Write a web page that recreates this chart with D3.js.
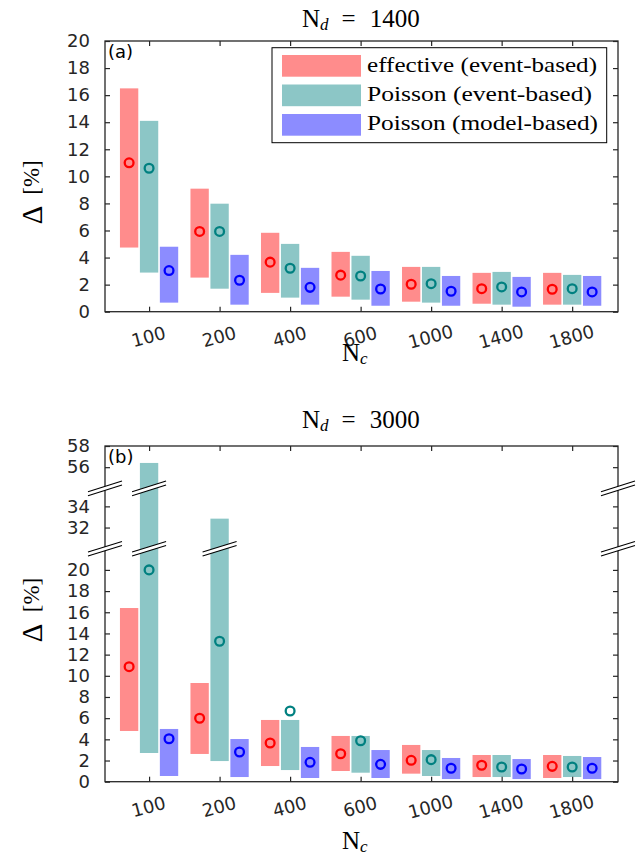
<!DOCTYPE html>
<html>
<head>
<meta charset="utf-8">
<script src="https://cdn.jsdelivr.net/npm/d3@7"></script>
<style>
  body { margin: 0; background: #fff; }
  svg { display: block; }
  .tick text { font-family: "DejaVu Sans", sans-serif; font-size: 18px; fill: #262626; }
  .tick line { stroke: #262626; stroke-width: 1.2; }
  .serif { font-family: "Liberation Serif", "DejaVu Serif", serif; fill: #000; }
</style>
</head>
<body>
<svg id="chart" width="638" height="855"></svg>
<script>
// categories (N_c)
const categories = ['100', '200', '400', '600', '1000', '1400', '1800'];
const seriesNames = ['effective (event-based)', 'Poisson (event-based)', 'Poisson (model-based)'];

// panel (a), N_d = 1400 : low / high / marker per category
const a_eff_lo   = [4.74, 2.52, 1.39, 1.11, 0.74, 0.59, 0.52];
const a_eff_hi   = [16.5, 9.09, 5.83, 4.42, 3.31, 2.87, 2.87];
const a_eff_mid  = [11.0, 5.93, 3.66, 2.70, 2.03, 1.70, 1.66];
const a_pev_lo   = [2.89, 1.70, 1.04, 0.89, 0.67, 0.52, 0.52];
const a_pev_hi   = [14.1, 7.98, 5.01, 4.13, 3.31, 2.94, 2.72];
const a_pev_mid  = [10.6, 5.93, 3.21, 2.64, 2.07, 1.83, 1.70];
const a_pmo_lo   = [0.67, 0.52, 0.52, 0.44, 0.44, 0.37, 0.44];
const a_pmo_hi   = [4.80, 4.20, 3.24, 3.01, 2.64, 2.57, 2.64];
const a_pmo_mid  = [3.04, 2.32, 1.80, 1.68, 1.51, 1.46, 1.46];

// panel (b), N_d = 3000
const b_eff_lo   = [4.79, 2.62, 1.48, 1.01, 0.76, 0.44, 0.35];
const b_eff_hi   = [16.4, 9.32, 5.83, 4.32, 3.47, 2.52, 2.52];
const b_eff_mid  = [10.86, 5.99, 3.65, 2.64, 2.02, 1.55, 1.45];
const b_pev_lo   = [2.71, 1.95, 1.10, 0.85, 0.54, 0.44, 0.44];
const b_pev_hi   = [56.4, 32.84, 5.83, 4.32, 2.99, 2.52, 2.43];
const b_pev_mid  = [20.0, 13.26, 6.68, 3.87, 2.08, 1.39, 1.39];
const b_pmo_lo   = [0.54, 0.44, 0.35, 0.35, 0.25, 0.25, 0.25];
const b_pmo_hi   = [4.98, 4.03, 3.28, 2.99, 2.24, 2.14, 2.33];
const b_pmo_mid  = [4.06, 2.80, 1.83, 1.64, 1.27, 1.20, 1.27];

// y ticks
const a_yticks = [0, 2, 4, 6, 8, 10, 12, 14, 16, 18, 20];
const b_yticks = [0, 2, 4, 6, 8, 10, 12, 14, 16, 18, 20, 32, 34, 56, 58];
// broken y axis for (b): kept segments
const b_segments = [[0, 22], [30, 35.7], [54, 58]];

const barFill = ['#ff8c8c', '#8cc6c6', '#8c8cff'];
const markStroke = ['#ff0000', '#008080', '#0000ff'];
const legendWidths = [230, 225, 231];
const axisColor = '#262626';

const svg = d3.select('#chart');
const left = 105, right = 618;

let x = d3.scaleLinear().domain([-0.625, 6.65]).range([left, right]);
const offs = [-0.283, 0, 0.283];
const bw = 0.26;

// "N" with italic subscript, LaTeX-ish
let subLabel = function(g, x0, y0, sub, rest) {
  let t = g.append('text').attr('class', 'serif')
    .attr('x', x0).attr('y', y0).style('font-size', '25px');
  t.append('tspan').text('N');
  t.append('tspan').attr('font-style', 'italic').attr('dy', 3).style('font-size', '17px').text(sub);
  if (rest) {
    t.append('tspan').attr('dy', -3).attr('dx', 13).text('=');
    t.append('tspan').attr('dx', 14).text(rest);
  }
};

let drawPanel = function(opts) {
  let g = svg.append('g');
  let y = opts.y;
  let top = opts.top, bottom = opts.bottom;

  // bars + markers
  opts.series.forEach(function(s, k) {
    let rows = categories.map((c, i) => ({i: i, lo: s.lo[i], hi: s.hi[i]}));
    g.selectAll('rect.s' + k).data(rows).enter().append('rect')
      .attr('class', 's' + k)
      .attr('x', d => x(d.i + offs[k] - bw / 2))
      .attr('width', d => x(bw) - x(0))
      .attr('y', d => y(d.hi))
      .attr('height', d => y(d.lo) - y(d.hi))
      .attr('fill', barFill[k]);
  });
  opts.series.forEach(function(s, k) {
    let rows = categories.map((c, i) => ({i: i, mid: s.mid[i]}));
    g.selectAll('circle.s' + k).data(rows).enter().append('circle')
      .attr('class', 's' + k)
      .attr('cx', d => x(d.i + offs[k]))
      .attr('cy', d => y(d.mid))
      .attr('r', 4.4)
      .attr('fill', 'none')
      .attr('stroke', markStroke[k])
      .attr('stroke-width', 2.3);
  });

  // box
  g.append('rect')
    .attr('x', left).attr('y', top)
    .attr('width', right - left).attr('height', bottom - top)
    .attr('fill', 'none').attr('stroke', axisColor).attr('stroke-width', 1.3);

  // axes (ticks inward)
  let xa = g.append('g').attr('transform', 'translate(0,' + bottom + ')')
    .call(d3.axisBottom(x).tickValues(d3.range(categories.length))
      .tickFormat(i => categories[i]).tickSizeInner(-5).tickSizeOuter(0));
  xa.selectAll('.tick text')
    .attr('y', 0).attr('dy', '0.35em')
    .attr('text-anchor', 'middle')
    .attr('transform', 'translate(-1,25) rotate(-15)');
  g.append('g').attr('transform', 'translate(0,' + top + ')')
    .call(d3.axisTop(x).tickValues(d3.range(categories.length))
      .tickFormat('').tickSizeInner(-5).tickSizeOuter(0));
  g.append('g').attr('transform', 'translate(' + left + ',0)')
    .call(d3.axisLeft(y).tickValues(opts.yticks).tickSizeInner(-5).tickSizeOuter(0).tickPadding(15));
  g.append('g').attr('transform', 'translate(' + right + ',0)')
    .call(d3.axisRight(y).tickValues(opts.yticks).tickFormat('').tickSizeInner(-5).tickSizeOuter(0));
  g.selectAll('.domain').remove();

  // titles and labels
  subLabel(g, 302, opts.titleY, 'd', String(opts.nd));
  subLabel(g, 342, opts.xlabY, 'c');

  g.append('text').attr('class', 'serif')
    .attr('transform', 'translate(42,' + opts.ylabY[0] + ') rotate(-90)')
    .attr('text-anchor', 'middle').style('font-size', '29px')
    .text('Δ');
  g.append('text').attr('class', 'serif')
    .attr('transform', 'translate(39,' + opts.ylabY[1] + ') rotate(-90)')
    .attr('text-anchor', 'middle').style('font-size', '23px')
    .text('[%]');

  g.append('text')
    .attr('x', 108).attr('y', top + 17)
    .style('font-family', '"DejaVu Sans", sans-serif').style('font-size', '18px')
    .attr('fill', '#000')
    .text(opts.tag);

  return g;
};

// ---- panel (a)
let ya = d3.scaleLinear().domain([0, 20]).range([311.7, 41]);
let gA = drawPanel({
  y: ya, top: 41, bottom: 311.7, yticks: a_yticks, titleY: 27, xlabY: 361, ylabY: [215, 177.5],
  nd: 1400, tag: '(a)',
  series: [
    {lo: a_eff_lo, hi: a_eff_hi, mid: a_eff_mid},
    {lo: a_pev_lo, hi: a_pev_hi, mid: a_pev_mid},
    {lo: a_pmo_lo, hi: a_pmo_hi, mid: a_pmo_mid}
  ]
});

// legend
let lg = gA.append('g');
lg.append('rect').attr('x', 272).attr('y', 47.7).attr('width', 334.7).attr('height', 95)
  .attr('fill', '#fff').attr('stroke', '#000').attr('stroke-width', 1);
seriesNames.forEach(function(name, k) {
  lg.append('rect').attr('x', 282).attr('y', 55 + k * 29.5).attr('width', 79).attr('height', 21.7)
    .attr('fill', barFill[k]);
  lg.append('text').attr('class', 'serif')
    .attr('x', 367).attr('y', 72 + k * 29)
    .style('font-size', '22px')
    .attr('textLength', legendWidths[k]).attr('lengthAdjust', 'spacingAndGlyphs')
    .text(name);
});

// ---- panel (b) with broken axis
const bTop = 446, bBottom = 781.7;
let units = d3.sum(b_segments, s => s[1] - s[0]);
let ppu = (bBottom - bTop) / units;
let bDom = [], bRng = [], acc = 0;
b_segments.forEach(function(s) {
  bDom.push(s[0]); bRng.push(bBottom - acc * ppu);
  acc += s[1] - s[0];
  bDom.push(s[1]); bRng.push(bBottom - acc * ppu);
});
let yb = d3.scaleLinear().domain(bDom).range(bRng);

let gB = drawPanel({
  y: yb, top: bTop, bottom: bBottom, yticks: b_yticks, titleY: 428, xlabY: 849, ylabY: [633, 595],
  nd: 3000, tag: '(b)',
  series: [
    {lo: b_eff_lo, hi: b_eff_hi, mid: b_eff_mid},
    {lo: b_pev_lo, hi: b_pev_hi, mid: b_pev_mid},
    {lo: b_pmo_lo, hi: b_pmo_hi, mid: b_pmo_mid}
  ]
});

// break marks: on both axes and on every bar crossing a gap
let breakMark = function(cx, cy) {
  let hw = 17, s = 5.3, gp = 2;
  gB.append('path')
    .attr('d', 'M' + (cx - hw) + ',' + (cy + s - gp) + 'L' + (cx + hw) + ',' + (cy - s - gp) +
      'L' + (cx + hw) + ',' + (cy - s + gp) + 'L' + (cx - hw) + ',' + (cy + s + gp) + 'Z')
    .attr('fill', '#fff');
  [-gp, gp].forEach(function(o) {
    gB.append('line')
      .attr('x1', cx - hw).attr('y1', cy + s + o)
      .attr('x2', cx + hw).attr('y2', cy - s + o)
      .attr('stroke', '#000').attr('stroke-width', 1.1);
  });
};
let bSeries = [[b_eff_lo, b_eff_hi], [b_pev_lo, b_pev_hi], [b_pmo_lo, b_pmo_hi]];
for (let j = 1; j < b_segments.length; j++) {
  let gapLo = b_segments[j - 1][1], gapHi = b_segments[j][0];
  let cy = yb(gapLo);
  breakMark(left, cy);
  breakMark(right, cy);
  bSeries.forEach(function(s, k) {
    categories.forEach(function(c, i) {
      if (s[0][i] < gapLo && s[1][i] > gapHi) breakMark(x(i + offs[k]), cy);
    });
  });
}
</script>
</body>
</html>
